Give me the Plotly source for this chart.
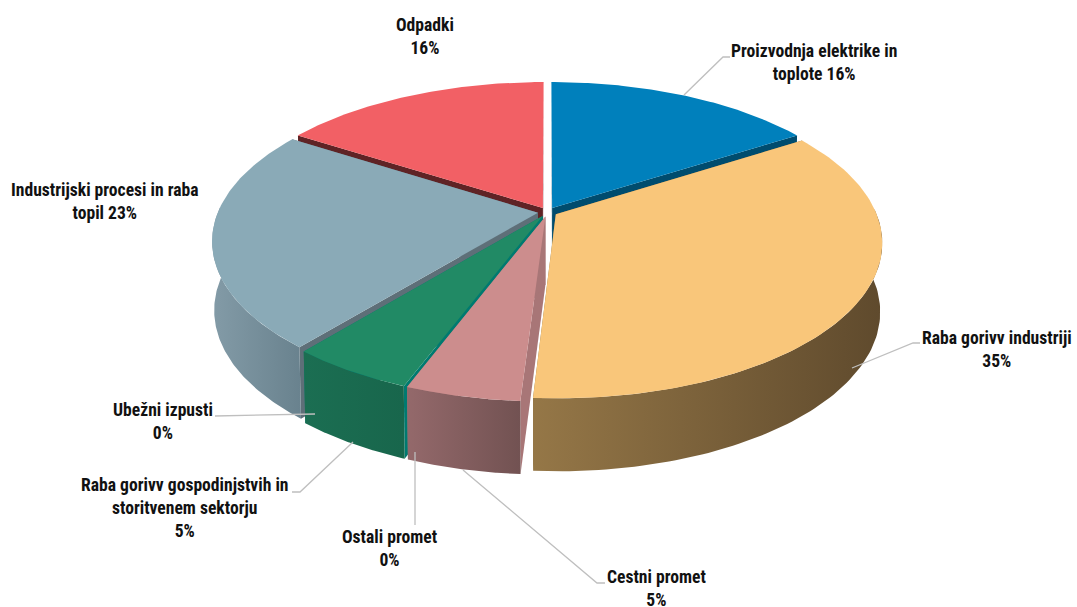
import numpy as np
import plotly.graph_objects as go

categories = ["Proizvodnja elektrike in toplote", "Raba goriv v industriji", "Cestni promet", "Ostali promet",
              "Raba goriv gospodinjstvih in storitvenem sektorju", "Ubežni izpusti",
              "Industrijski procesi in raba topil", "Odpadki"]
values = [16, 35, 4.8, 0, 5.2, 0, 23, 16]
labels = ["Proizvodnja elektrike in<br>toplote 16%", "Raba gorivv industriji<br>35%", "Cestni promet<br>5%",
          "Ostali promet<br>0%", "Raba gorivv gospodinjstvih in<br>storitvenem sektorju<br>5%", "Ubežni izpusti<br>0%",
          "Industrijski procesi in raba<br>topil 23%", "Odpadki<br>16%"]
top_colors = ["#0080BC", "#F9C67A", "#CC8D8D", "#8c8c8c", "#218A65", "#8c8c8c", "#8AAAB7", "#F26065"]
cut_colors = ["#004C6E", "#8C7040", "#A87677", "#8c8c8c", "#007A70", "#8c8c8c", "#5E6F78", "#5F2325"]
wall_left = ["#004C6E", "#957747", "#94696B", "#8c8c8c", "#1B6E52", "#8c8c8c", "#839BA7", "#5F2325"]
wall_right = ["#004C6E", "#5F4A2D", "#725252", "#8c8c8c", "#18664C", "#8c8c8c", "#69828E", "#5F2325"]
draw_order = [0, 7, 6, 4, 2, 1]
label_x = [814, 997, 656, 389, 185, 163, 105, 425]
label_y = [62, 349, 588, 548, 508, 421, 201, 36]
leaders = [[(684, 95), (723, 57), (730, 57)], [(852, 368), (913, 343), (920, 343)],
           [(463, 470), (597, 583), (605, 583)], [(415, 452), (415, 525)],
           [(353, 442), (300, 492), (292, 492)], [(315, 414), (215, 416)]]

XC, YC, R, K, P = 547.5, 212.0, 320.0, 150.0, 0.18
YB, RB, KB = 280.0, 318.0, 154.0
EXPLODE = 0.03


def project(u, v, level):
    d = 1 + P * v
    if level == 0:
        return XC + u * R / d, YC - K * v / d
    return XC + u * RB / d, YB - KB * v / d


def rim(a0, a1, mid, level):
    th = np.radians(np.linspace(a0, a1, 90))
    return project(np.sin(th) + EXPLODE * np.sin(mid), np.cos(th) + EXPLODE * np.cos(mid), level)


def poly(x, y, color=None, gradient=None):
    t = go.Scatter(x=list(x), y=list(y), mode="lines", fill="toself", line=dict(width=0),
                   hoverinfo="skip", showlegend=False)
    if gradient:
        t.fillgradient = dict(type="horizontal", colorscale=[[0, gradient[0]], [1, gradient[1]]])
    else:
        t.fillcolor = color
    return t


fig = go.Figure()
edges = np.cumsum([0] + values) * 3.6
for i in draw_order:
    a0, a1 = edges[i], edges[i + 1]
    mid = np.radians((a0 + a1) / 2)
    ax, ay = project(EXPLODE * np.sin(mid), EXPLODE * np.cos(mid), 0)
    bx, by = project(EXPLODE * np.sin(mid), EXPLODE * np.cos(mid), 1)
    tx, ty = rim(a0, a1, mid, 0)
    lx, ly = rim(a0, a1, mid, 1)
    # cut faces
    for k in (0, -1):
        fig.add_trace(poly([ax, tx[k], lx[k], bx], [ay, ty[k], ly[k], by], cut_colors[i]))
    # outer wall, front half only
    w0, w1 = max(a0, 88), min(a1, 272)
    if w1 > w0:
        ux, uy = rim(w0, w1, mid, 0)
        dx, dy = rim(w0, w1, mid, 1)
        fig.add_trace(poly(np.r_[ux, dx[::-1]], np.r_[uy, dy[::-1]], gradient=(wall_left[i], wall_right[i])))
    # top face
    fig.add_trace(poly(np.r_[ax, tx], np.r_[ay, ty], top_colors[i]))

for pts in leaders:
    fig.add_trace(go.Scatter(x=[p[0] for p in pts], y=[p[1] for p in pts], mode="lines",
                             line=dict(color="#BFBFBF", width=1.3), hoverinfo="skip", showlegend=False))

for t, x, y in zip(labels, label_x, label_y):
    fig.add_annotation(x=x, y=y, text=t, showarrow=False, xanchor="center", yanchor="middle", align="center",
                       font=dict(family="Liberation Sans Narrow, Roboto Condensed, Liberation Sans", size=17.6,
                                 color="#111111", weight="bold"))

fig.update_xaxes(range=[0, 1077], visible=False, fixedrange=True)
fig.update_yaxes(range=[607, 0], visible=False, fixedrange=True)
fig.update_layout(width=1077, height=607, margin=dict(l=0, r=0, t=0, b=0), paper_bgcolor="white",
                  plot_bgcolor="white", showlegend=False)
fig.write_html("out.html", config=dict(displayModeBar=False),
               post_script="document.body.style.margin='0';document.body.style.overflow='hidden';")
